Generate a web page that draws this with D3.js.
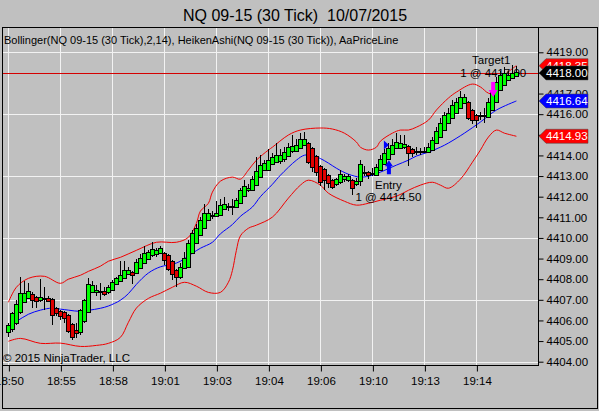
<!DOCTYPE html>
<html><head><meta charset="utf-8">
<script src="https://cdn.jsdelivr.net/npm/d3@7"></script>
<style>
html,body{margin:0;padding:0;background:#c0c0c0;overflow:hidden}
svg{display:block}
text{font-family:"Liberation Sans",Arial,sans-serif}
</style>
</head><body>
<svg id="c" width="599" height="411"></svg>
<script>
// ---------- data ----------
const timeLabels = ["18:50","18:55","18:58","19:01","19:03","19:04","19:06","19:10","19:13","19:14"];
const timeTickBars = [0,13,26,39,52,65,78,91,104,117];
const priceTicks = [4404,4405,4406,4407,4408,4409,4410,4411,4412,4413,4414,4415,4416,4417,4418,4419];
const gridPrices = [4404,4407,4410,4413,4416,4419];
const priceLine = 4418.00;

const haOpen = [4405.45,4405.6,4405.9,4406.4,4406.9,4407.1,4407.3,4407.15,4407.0,4407.05,
 4407.1,4407.05,4406.6,4406.45,4406.4,4406.25,4405.85,4405.55,4405.45,4405.95,
 4406.4,4407.4,4407.4,4407.42,4407.45,4407.38,4407.5,4407.75,4407.9,4408.05,
 4408.25,4408.35,4408.3,4408.55,4408.8,4409.0,4409.15,4409.2,4409.25,4409.25,
 4409.15,4408.9,4408.45,4408.1,4408.55,4408.6,4409.25,4409.75,4410.15,4410.5,
 4410.85,4411.05,4411.05,4411.1,4411.4,4411.52,4411.5,4411.5,4411.7,4412.05,
 4412.3,4412.3,4412.55,4412.95,4413.3,4413.3,4413.6,4413.7,4413.75,4413.85,
 4413.95,4414.2,4414.2,4414.35,4414.5,4414.6,4414.35,4413.95,4413.5,4413.35,
 4413.05,4412.8,4412.6,4412.7,4412.85,4412.8,4412.8,4412.6,4412.75,4413.15,
 4413.2,4413.12,4413.05,4413.3,4413.6,4413.85,4414.05,4414.35,4414.35,4414.4,
 4414.45,4414.3,4414.18,4414.17,4414.2,4414.15,4414.25,4414.6,4414.9,4415.25,
 4415.55,4415.8,4416.05,4416.3,4416.55,4416.6,4416.2,4415.95,4415.9,4415.92,
 4415.85,4416.2,4416.6,4417.15,4417.4,4417.65,4417.75,4417.85];
const haHigh = [4405.9,4406.4,4407.0,4408.1,4407.9,4407.8,4407.4,4407.2,4408.0,4407.6,
 4407.2,4407.1,4406.65,4406.5,4406.45,4406.3,4405.9,4405.9,4406.55,4407.05,
 4408.05,4407.9,4407.7,4407.8,4407.6,4407.7,4407.95,4408.1,4408.9,4408.9,
 4408.6,4408.4,4409.0,4409.2,4409.6,4409.4,4409.8,4409.5,4409.6,4409.3,
 4409.2,4408.95,4408.5,4408.8,4409.3,4409.9,4410.4,4410.7,4411.0,4411.65,
 4411.4,4411.3,4411.8,4411.9,4412.0,4411.7,4411.9,4411.95,4412.4,4412.8,
 4412.6,4413.0,4413.9,4414.0,4413.8,4414.3,4414.1,4414.6,4414.3,4414.4,
 4414.6,4415.0,4414.8,4415.1,4415.15,4414.65,4414.4,4414.0,4413.55,4413.4,
 4413.1,4412.85,4412.9,4413.3,4413.1,4413.1,4412.85,4412.9,4413.8,4413.5,
 4413.25,4413.4,4413.6,4414.0,4414.3,4414.6,4414.8,4415.1,4415.0,4415.0,
 4414.5,4414.35,4414.4,4414.35,4414.4,4414.6,4414.9,4415.4,4415.8,4416.1,
 4416.3,4416.7,4416.8,4417.1,4417.0,4416.65,4416.25,4416.0,4416.1,4416.3,
 4416.8,4417.3,4417.8,4418.1,4418.3,4418.1,4418.4,4418.35];
const haLow = [4405.2,4405.45,4405.8,4406.3,4406.9,4407.1,4406.6,4406.6,4406.9,4406.5,
 4406.9,4405.8,4406.2,4406.0,4405.9,4405.4,4405.05,4405.15,4405.3,4405.9,
 4406.4,4407.4,4407.2,4407.0,4407.2,4407.3,4407.5,4407.7,4407.9,4408.05,
 4408.2,4407.75,4408.3,4408.5,4408.8,4408.95,4409.1,4409.1,4409.2,4408.7,
 4408.4,4407.95,4407.6,4408.0,4408.5,4408.6,4409.25,4409.75,4410.15,4410.5,
 4410.85,4410.9,4411.0,4411.1,4411.4,4411.3,4411.1,4411.5,4411.7,4412.05,
 4412.25,4412.3,4412.55,4412.95,4413.3,4413.3,4413.6,4413.7,4413.6,4413.7,
 4413.95,4414.1,4414.2,4414.35,4414.5,4413.6,4413.2,4413.0,4412.5,4412.3,
 4412.4,4412.35,4412.5,4412.6,4412.7,4412.7,4412.1,4412.5,4412.5,4413.0,
 4412.85,4413.0,4413.05,4413.3,4413.6,4413.85,4414.05,4414.35,4414.3,4414.3,
 4413.5,4413.9,4414.0,4414.0,4414.1,4414.15,4414.25,4414.6,4414.9,4415.25,
 4415.55,4415.8,4416.05,4416.3,4416.5,4415.7,4415.5,4415.35,4415.7,4415.55,
 4415.85,4416.2,4416.6,4417.15,4417.4,4417.6,4417.7,4417.8];
const haClose = [4405.8,4406.35,4406.8,4407.35,4407.35,4407.45,4407.0,4406.95,4407.15,4407.1,
 4406.95,4406.25,4406.35,4406.2,4406.1,4405.5,4405.2,4405.4,4406.5,4407.0,
 4407.75,4407.7,4407.5,4407.45,4407.3,4407.62,4407.85,4408.05,4408.2,4408.45,
 4408.45,4408.2,4408.85,4409.05,4409.25,4409.3,4409.45,4409.4,4409.5,4408.92,
 4408.5,4408.25,4408.1,4408.6,4409.05,4409.75,4410.25,4410.5,4410.85,4411.2,
 4411.2,4411.1,4411.2,4411.6,4411.65,4411.55,4411.55,4411.85,4412.3,4412.5,
 4412.4,4412.85,4413.25,4413.55,4413.65,4413.8,4413.9,4414.0,4414.0,4414.15,
 4414.4,4414.45,4414.5,4414.8,4414.82,4413.7,4413.45,4413.2,4412.7,4412.8,
 4412.65,4412.48,4412.85,4413.1,4413.0,4413.0,4412.4,4412.75,4413.6,4413.2,
 4413.05,4413.15,4413.45,4413.85,4414.1,4414.35,4414.5,4414.65,4414.6,4414.55,
 4414.1,4414.1,4414.2,4414.2,4414.22,4414.4,4414.75,4415.2,4415.55,4415.95,
 4416.05,4416.45,4416.6,4416.85,4416.85,4415.8,4415.7,4415.7,4415.95,4415.95,
 4416.6,4417.15,4417.55,4417.9,4418.0,4417.9,4418.0,4418.05];

// Bollinger(2,14) read at bar positions: [bar, price]
const bbUpper = [[0,4406.88],[2,4407.61],[5,4408.04],[9,4408.14],[13,4407.8],[15,4408.0],[18,4408.19],[20,4408.38],[23,4408.63],[25,4408.87],[28,4409.06],[32,4409.40],[37,4409.79],[42,4409.79],[45,4410.03],[47,4410.71],[48,4411.30],[50,4411.68],[51,4412.22],[53,4412.75],[56,4412.95],[58,4412.85],[60,4413.29],[62,4413.77],[65,4414.26],[66,4414.40],[70,4414.99],[73,4415.23],[78,4415.33],[81,4415.28],[84,4415.08],[87,4414.65],[88,4414.40],[90,4414.26],[92,4414.40],[93,4414.69],[96,4415.08],[98,4415.23],[100,4415.23],[102,4415.37],[105,4415.71],[107,4416.20],[110,4416.78],[112,4417.07],[116,4417.46],[118,4417.32],[120,4417.02],[122,4416.98],[123,4417.46],[125,4418.04],[127,4418.35]];
const bbMiddle = [[0,4405.71],[2,4405.95],[5,4406.3],[8,4406.5],[11,4406.6],[13,4406.55],[15,4406.5],[18,4406.44],[20,4406.49],[23,4406.59],[25,4406.7],[28,4406.98],[30,4407.3],[32,4407.75],[35,4408.3],[38,4408.6],[41,4408.72],[43,4408.87],[46,4409.26],[48,4409.5],[51,4409.79],[53,4410.2],[56,4410.65],[58,4411.05],[61,4411.5],[63,4412.0],[66,4412.6],[68,4413.04],[72,4413.77],[74,4414.01],[76,4414.01],[78,4413.85],[80,4413.63],[82,4413.38],[85,4413.09],[88,4412.95],[91,4413.04],[93,4413.19],[97,4413.53],[100,4413.77],[102,4413.97],[105,4414.16],[108,4414.40],[110,4414.60],[114,4415.08],[118,4415.62],[122,4416.20],[127,4416.64]];
const bbLower = [[0,4404.99],[3,4405.13],[8,4404.89],[13,4404.9],[18,4404.74],[22,4404.79],[25,4404.89],[28,4405.18],[30,4405.91],[32,4406.6],[35,4407.07],[38,4407.32],[41,4407.61],[44,4407.85],[47,4407.66],[50,4407.36],[53,4407.36],[55,4407.85],[56,4408.42],[57,4409.40],[58,4410.10],[60,4410.47],[62,4410.62],[66,4411.01],[70,4411.93],[73,4412.56],[75,4412.80],[78,4412.56],[80,4412.17],[84,4411.78],[87,4411.59],[90,4411.68],[93,4411.83],[97,4412.02],[100,4412.31],[103,4412.56],[106,4412.70],[108,4412.56],[110,4412.41],[113,4412.85],[116,4413.67],[118,4414.26],[120,4414.89],[122,4415.23],[124,4415.08],[127,4414.93]];

// executions
const entryBar = 95, entryPrice = 4414.50, entryArrowTip = 4413.77;
const targetBar = 121.2, targetPrice = 4417.00, targetArrowTip = 4416.83;

// ---------- chart ----------
const svg = d3.select("#c");
const P = {l:2, r:538, t:27, b:365};
const x = d3.scaleLinear().domain([0,127]).range([8.4,516.4]);
const y = d3.scaleLinear().domain([4404,4419]).range([361.7,52.3]);
const font = '"Liberation Sans",Arial,sans-serif';

svg.append("rect").attr("width",599).attr("height",411).attr("fill","#c0c0c0");

svg.append("text").attr("x",295).attr("y",21).attr("text-anchor","middle")
  .attr("font-size",16).attr("fill","#000").style("white-space","pre")
  .text("NQ 09-15 (30 Tick)  10/07/2015");

svg.append("defs").append("clipPath").attr("id","plotclip")
  .append("rect").attr("x",P.l).attr("y",P.t).attr("width",P.r-P.l).attr("height",P.b-P.t);
const plot = svg.append("g").attr("clip-path","url(#plotclip)");

// grid
plot.selectAll(".vg").data(timeTickBars).enter().append("line")
  .attr("x1",d=>Math.round(x(d))+0.5).attr("x2",d=>Math.round(x(d))+0.5)
  .attr("y1",P.t).attr("y2",P.b).attr("stroke","#f2f2f2").attr("stroke-width",1);
plot.selectAll(".hg").data(gridPrices).enter().append("line")
  .attr("y1",d=>Math.round(y(d))+0.5).attr("y2",d=>Math.round(y(d))+0.5)
  .attr("x1",P.l).attr("x2",P.r).attr("stroke","#f2f2f2").attr("stroke-width",1);

// legend & copyright
svg.append("text").attr("x",4).attr("y",44).attr("font-size",11).attr("fill","#000")
  .text("Bollinger(NQ 09-15 (30 Tick),2,14), HeikenAshi(NQ 09-15 (30 Tick)), AaPriceLine");
svg.append("text").attr("x",3).attr("y",362).attr("font-size",11.5).attr("fill","#000")
  .text("\u00A9 2015 NinjaTrader, LLC");

// price line
plot.append("rect").attr("x",P.l).attr("width",P.r-P.l)
  .attr("y",Math.round(y(priceLine))).attr("height",1)
  .attr("fill","#d40000");

// bollinger
const line = d3.line().x(d=>x(d[0])).y(d=>y(d[1])).curve(d3.curveCatmullRom.alpha(0.5));
plot.append("path").attr("d",line(bbUpper)).attr("fill","none").attr("stroke","#f00000").attr("stroke-width",1);
plot.append("path").attr("d",line(bbLower)).attr("fill","none").attr("stroke","#f00000").attr("stroke-width",1);
plot.append("path").attr("d",line(bbMiddle)).attr("fill","none").attr("stroke","#0000ff").attr("stroke-width",1);

// execution texts (under candles)
const tx = plot.append("g").attr("font-size",11.5).attr("fill","#000").attr("text-anchor","middle");
tx.append("text").attr("x",x(entryBar)).attr("y",y(entryArrowTip)+29).text("Entry");
tx.append("text").attr("x",x(entryBar)).attr("y",y(entryArrowTip)+41).text("1 @ " + entryPrice.toFixed(2));
tx.append("text").attr("x",x(targetBar)-2).attr("y",y(targetArrowTip)-33).text("Target1");
tx.append("text").attr("x",x(targetBar)).attr("y",y(targetArrowTip)-20).text("1 @ " + targetPrice.toFixed(2));

// candles
const cg = plot.append("g");
haOpen.forEach((o,i)=>{
  const c = haClose[i], h = haHigh[i], l = haLow[i];
  const cx = Math.round(x(i));
  cg.append("line").attr("x1",cx+0.5).attr("x2",cx+0.5)
    .attr("y1",Math.round(y(h))).attr("y2",Math.round(y(l)))
    .attr("stroke","#000").attr("stroke-width",1);
  const top = Math.round(y(Math.max(o,c))), bot = Math.round(y(Math.min(o,c)));
  cg.append("rect").attr("x",cx-1.5).attr("y",top+0.5)
    .attr("width",4).attr("height",Math.max(1,bot-top))
    .attr("fill", c>=o ? "#00ff00" : "#e00000").attr("stroke","#000").attr("stroke-width",1);
});

// entry marks
{
  const ax = x(entryBar)+0.5, ay = y(entryArrowTip);
  plot.append("path").attr("d",`M${ax},${ay} L${ax+4},${ay+6} L${ax+2},${ay+6} L${ax+2},${ay+14} L${ax-2},${ay+14} L${ax-2},${ay+6} L${ax-4},${ay+6} Z`)
    .attr("fill","#0000ff");
  const tx0 = x(entryBar-1)-0.5, ty = y(entryPrice);
  plot.append("path").attr("d",`M${tx0},${ty-4.5} L${tx0+5},${ty} L${tx0},${ty+4.5} Z`).attr("fill","#0000ff");
  const mx = x(targetBar), my = y(targetArrowTip);
  plot.append("path").attr("d",`M${mx},${my} L${mx+4.5},${my-7} L${mx+2},${my-7} L${mx+2},${my-15} L${mx-2},${my-15} L${mx-2},${my-7} L${mx-4.5},${my-7} Z`)
    .attr("fill","#ff00ff");
}

// axes
const yAxis = d3.axisRight(y).tickValues(priceTicks).tickFormat(d3.format(".2f")).tickSize(5).tickSizeOuter(0).tickPadding(3);
const ya = svg.append("g").attr("transform",`translate(${P.r+0.5},0)`).call(yAxis);
ya.select(".domain").remove();
ya.selectAll("text").attr("font-family",font).attr("font-size",11.5).attr("fill","#000");
ya.selectAll("line").attr("stroke","#000");

const xAxis = d3.axisBottom(x).tickValues(timeTickBars).tickFormat((d,i)=>timeLabels[i]).tickSize(6).tickSizeOuter(0).tickPadding(5);
const xa = svg.append("g").attr("transform",`translate(0.5,${P.b+0.5})`).call(xAxis);
xa.select(".domain").remove();
xa.selectAll("text").attr("font-family",font).attr("font-size",11.5).attr("fill","#000");
xa.selectAll("line").attr("stroke","#000");

// frame
svg.append("line").attr("x1",P.r+0.5).attr("x2",P.r+0.5).attr("y1",P.t).attr("y2",P.b+1).attr("stroke","#000");
svg.append("line").attr("x1",P.l).attr("x2",P.r+1).attr("y1",P.b+0.5).attr("y2",P.b+0.5).attr("stroke","#000");
svg.append("rect").attr("x",P.l+0.5).attr("y",P.t+0.5).attr("width",595).attr("height",381)
  .attr("fill","none").attr("stroke","#000");

// price markers on axis
const markers = [
  {v: bbUpper[bbUpper.length-1][1], bg:"#ff0000"},
  {v: priceLine, bg:"#000000"},
  {v: bbMiddle[bbMiddle.length-1][1], bg:"#0000ff"},
  {v: bbLower[bbLower.length-1][1], bg:"#ff0000"}
];
markers.forEach(m=>{
  const yc = y(m.v), x0 = P.r+1;
  svg.append("path").attr("d",`M${x0},${yc} L${x0+7},${yc-7} L${x0+49},${yc-7} L${x0+49},${yc+7} L${x0+7},${yc+7} Z`)
    .attr("fill",m.bg).attr("stroke","#404040").attr("stroke-width",0.5);
  svg.append("text").attr("x",x0+7).attr("y",yc+4.2).attr("font-size",11.5).attr("fill","#fff")
    .text(m.v.toFixed(2));
});
</script>
</body></html>
